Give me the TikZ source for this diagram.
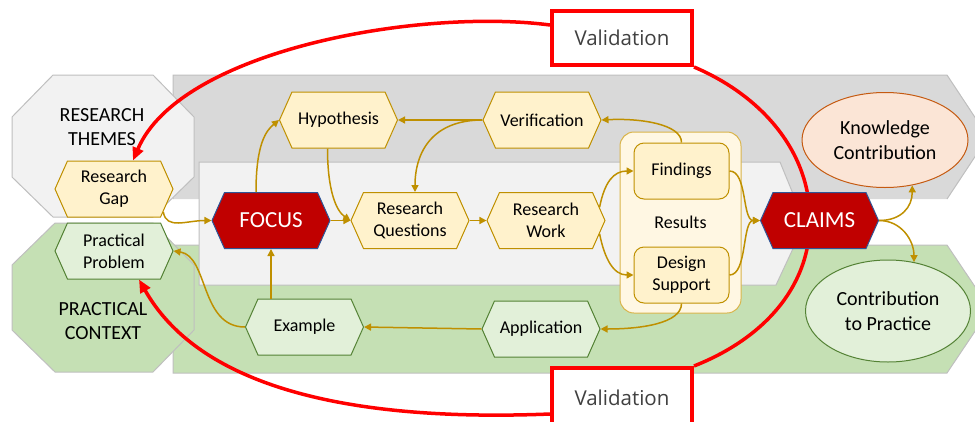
\documentclass[tikz,border=0pt]{standalone}
\usepackage{fontspec}
\setmainfont{Carlito}
\newfontfamily\valfont{Open Sans}
\usetikzlibrary{shapes.symbols,shapes.geometric,arrows.meta}
\definecolor{gold}{HTML}{BF9000}
\definecolor{goldlight}{HTML}{D9B44A}
\definecolor{yfill}{HTML}{FFF2CC}
\definecolor{resfill}{HTML}{FFF7E3}
\definecolor{gfill}{HTML}{E2F0D9}
\definecolor{gborder}{HTML}{548235}
\definecolor{rfill}{HTML}{C00000}
\definecolor{rborder}{HTML}{2F5597}
\definecolor{bandgray}{HTML}{D9D9D9}
\definecolor{bandlight}{HTML}{F2F2F2}
\definecolor{bandgreen}{HTML}{C5E0B4}
\definecolor{bandborder}{HTML}{BFBFBF}
\definecolor{kfill}{HTML}{FBE5D6}
\definecolor{kborder}{HTML}{C55A11}
\definecolor{vred}{HTML}{FF0000}
\definecolor{vtext}{HTML}{404040}
\begin{document}
\begin{tikzpicture}[x=1pt,y=-1pt,
  hexy/.style={signal, signal to=east and west, signal pointer angle=132,
    minimum width=118pt, minimum height=56pt, inner sep=0pt, align=center,
    font=\fontsize{18}{22}\selectfont, line width=1pt},
  yhex/.style={hexy, fill=yfill, draw=gold},
  ghex/.style={hexy, fill=gfill, draw=gborder},
  rhex/.style={hexy, fill=rfill, draw=rborder, text=white, font=\fontsize{23}{27}\selectfont},
  band/.style={draw=bandborder, line width=1pt},
  octo/.style={draw=bandborder, line width=1pt},
  bigtext/.style={align=center, font=\fontsize{20}{24}\selectfont},
  rbox/.style={rectangle, rounded corners=10pt, draw=gold, fill=yfill, line width=1pt,
    minimum width=95pt, minimum height=56pt, align=center, inner sep=0pt,
    font=\fontsize{18}{22}\selectfont},
  ell/.style={ellipse, line width=1pt, align=center, inner sep=0pt,
    font=\fontsize{20}{25}\selectfont},
  conn/.style={draw=gold, line width=1.5pt, -{Triangle[length=7pt,width=7pt]}},
  valline/.style={draw=vred, line width=3.5pt},
  valarrow/.style={valline, -{Triangle[length=13pt,width=11pt]}},
  valbox/.style={rectangle, draw=vred, line width=4pt, fill=white,
    minimum width=140pt, minimum height=54pt, inner sep=0pt,
    font=\valfont\fontsize{20.5}{24}\selectfont, text=vtext}
]
\useasboundingbox (0,0) rectangle (975,421);

% background bands
\fill[bandgray] (173,75) -- (947,75) -- (988,137) -- (947,199) -- (173,199) -- cycle;
\draw[band] (173,199) -- (173,75) -- (947,75) -- (988,137) -- (947,199);
\draw[band, fill=bandgreen] (173,245) -- (947,245) -- (990,309) -- (947,373) -- (173,373) -- cycle;
\draw[band, fill=bandlight] (199,162) -- (780,162) -- (805,223) -- (776,285) -- (199,285) -- cycle;

% octagons
\draw[octo, fill=bandlight] (53,75) -- (153,75) -- (194,117) -- (194,177) -- (153,217) -- (53,217) -- (12,177) -- (12,117) -- cycle;
\draw[octo, fill=bandgreen] (55,223) -- (153,223) -- (194,265) -- (194,330) -- (153,372) -- (55,372) -- (12,330) -- (12,265) -- cycle;
\node[bigtext] (themes) at (102,127) {RESEARCH\\THEMES};
\node[bigtext] (context) at (103,321) {PRACTICAL\\CONTEXT};

% validation boxes
\node[valbox] (valtop) at (622,38) {Validation};
\node[valbox, minimum height=60pt] (valbot) at (622,398) {Validation};

% nodes
\node[yhex] (gap) at (114,189) {Research\\Gap};
\node[ghex] (pp) at (114,251) {Practical\\Problem};

% red validation loop (behind nodes)
\coordinate (gaptip) at ([xshift=19pt]gap.north);
\coordinate (pptip) at ([xshift=25pt]pp.south);
\draw[valarrow] ([yshift=13pt]valtop.west) .. controls (420,8) and (180,50) .. (gaptip);
\draw[valarrow] ([yshift=-16pt]valbot.west) .. controls (400,420) and (210,405) .. (pptip);
\draw[valline] (valtop.south east) .. controls (760,95) and (810,150) .. (810,220)
  .. controls (810,290) and (760,340) .. (valbot.north east);

\node[rhex] (focus) at (271,220.5) {FOCUS};
\node[yhex] (hyp) at (338.5,120) {Hypothesis};
\node[yhex] (ver) at (542,120) {Verification};
\node[yhex] (rq) at (410,220.5) {Research\\Questions};
\node[yhex] (rw) at (546,220.5) {Research\\Work};
\node[rectangle, rounded corners=14pt, draw=goldlight, fill=resfill, line width=1pt,
  minimum width=121pt, minimum height=181pt, font=\fontsize{18}{22}\selectfont] (res) at (680.5,222.5) {Results};
\node[rbox] (find) at (681.5,171) {Findings};
\node[rbox] (des) at (681.5,275) {Design\\Support};
\node[rhex] (claims) at (819.5,220.5) {CLAIMS};
\node[ell, fill=kfill, draw=kborder, minimum width=166pt, minimum height=95pt] (know) at (885,140) {Knowledge\\Contribution};
\node[ell, fill=gfill, draw=gborder, minimum width=165pt, minimum height=102pt] (prac) at (888,311) {Contribution\\to Practice};
\node[ghex] (ex) at (304.5,327) {Example};
\node[ghex] (app) at (541,329) {Application};

% connectors
\draw[conn] (gap.-25) .. controls +(3,18) and +(-25,0) .. (focus.west);
\draw[conn] ([xshift=-15pt]focus.north) .. controls +(0,-50) and +(-12,10) .. (hyp.west);
\draw[conn] ([xshift=-11pt]hyp.south) .. controls +(0,40) and +(-15,-10) .. (rq.west);
\draw[conn] (focus.east) -- (rq.west);
\draw[conn] (ver.west) -- (hyp.east);
\draw[conn] (ver.west) .. controls +(-50,0) and +(0,-40) .. ([xshift=5pt]rq.north);
\draw[conn] (rq.east) -- (rw.west);
\draw[conn] (rw.14) .. controls +(5,-25) and +(-20,0) .. (find.west);
\draw[conn] (rw.-14) .. controls +(5,25) and +(-20,0) .. (des.west);
\draw[conn] (find.north) .. controls +(0,-18) and +(40,-2) .. (ver.east);
\draw[conn] (find.east) .. controls +(18,0) and +(-18,0) .. (claims.west);
\draw[conn] (des.east) .. controls +(18,0) and +(-18,0) .. (claims.west);
\draw[conn] (claims.east) .. controls +(22,0) and +(0,22) .. (know.-59);
\draw[conn] (claims.east) .. controls +(22,0) and +(0,-22) .. (prac.62);
\draw[conn] (des.south) .. controls +(0,20) and +(40,0) .. (app.east);
\draw[conn] (app.west) -- (ex.east);
\draw[conn] (ex.north -| focus.south) -- (focus.south);
\draw[conn] (ex.west) .. controls +(-45,0) and +(35,5) .. (pp.east);
\end{tikzpicture}
\end{document}
